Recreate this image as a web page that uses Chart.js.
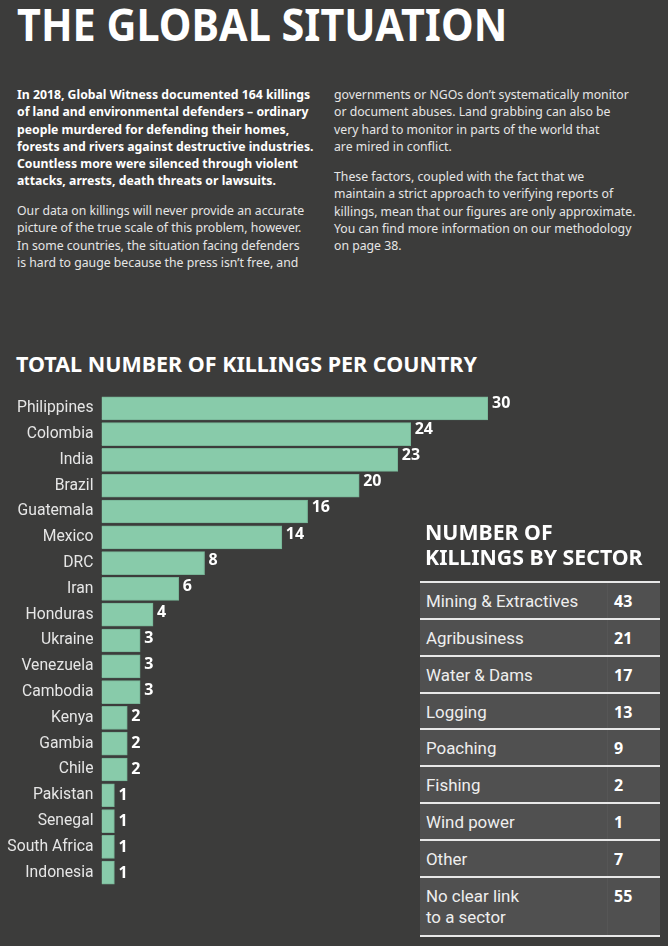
<!DOCTYPE html>
<html>
<head>
<meta charset="utf-8">
<script src="https://cdn.jsdelivr.net/npm/chart.js@4"></script>
<style>
  html, body { margin: 0; padding: 0; background: #3c3c3b; }
  #page { position: relative; width: 668px; height: 946px; overflow: hidden; background: #3c3c3b; color: #fff; }
  #page div { position: absolute; white-space: nowrap; }
  #title { left: 17px; top: -6px; font: 700 44.5px/60px "Noto Sans", sans-serif; transform: scaleX(0.93); transform-origin: left top; }
  .para { font: 12.25px/17.3px "Noto Sans", sans-serif; color: #e6e6e6; }
  .para.bold { font-weight: 700; color: #fff; }
  #chartTitle { left: 16px; top: 350px; font: 700 21.5px/28px "Noto Sans", sans-serif; }
  #sectorTitle { left: 425px; top: 519px; font: 700 21.3px/25px "Noto Sans", sans-serif; }
  #chartBox { position: absolute; left: 0; top: 386px; width: 668px; height: 509px; }
  #panel { left: 420px; top: 581px; width: 240px; height: 355px; background: #505050; }
  #page .rule { left: 420px; width: 240px; height: 2px; background: #e8e8e8; }
  #page .sep { left: 607px; width: 1px; top: 581px; height: 355px; background: #565656; }
  .sectorName { left: 426px; font: 16.9px/21px Roboto, sans-serif; color: #eee; }
  .sectorNum { left: 614px; font: 700 16px/21px "Noto Sans", sans-serif; }
</style>
</head>
<body>
<div id="page">
  <div id="title">THE GLOBAL SITUATION</div>
  <div class="para bold" style="left:17px;top:86px">In 2018, Global Witness documented 164 killings<br>of land and environmental defenders – ordinary<br>people murdered for defending their homes,<br>forests and rivers against destructive industries.<br>Countless more were silenced through violent<br>attacks, arrests, death threats or lawsuits.</div>
  <div class="para" style="left:17px;top:202px">Our data on killings will never provide an accurate<br>picture of the true scale of this problem, however.<br>In some countries, the situation facing defenders<br>is hard to gauge because the press isn’t free, and</div>
  <div class="para" style="left:334px;top:86px">governments or NGOs don’t systematically monitor<br>or document abuses. Land grabbing can also be<br>very hard to monitor in parts of the world that<br>are mired in conflict.</div>
  <div class="para" style="left:334px;top:168px">These factors, coupled with the fact that we<br>maintain a strict approach to verifying reports of<br>killings, mean that our figures are only approximate.<br>You can find more information on our methodology<br>on page 38.</div>
  <div id="chartTitle">TOTAL NUMBER OF KILLINGS PER COUNTRY</div>
  <div id="chartBox"><canvas id="killings"></canvas></div>
  <div id="sectorTitle">NUMBER OF<br>KILLINGS BY SECTOR</div>
  <div id="panel"></div>
</div>
<script>
const countries = ['Philippines', 'Colombia', 'India', 'Brazil', 'Guatemala', 'Mexico', 'DRC', 'Iran', 'Honduras', 'Ukraine', 'Venezuela', 'Cambodia', 'Kenya', 'Gambia', 'Chile', 'Pakistan', 'Senegal', 'South Africa', 'Indonesia'];
const killings = [30, 24, 23, 20, 16, 14, 8, 6, 4, 3, 3, 3, 2, 2, 2, 1, 1, 1, 1];
const sectors = ['Mining & Extractives', 'Agribusiness', 'Water & Dams', 'Logging', 'Poaching', 'Fishing', 'Wind power', 'Other', 'No clear link<br>to a sector'];
const sectorKillings = [43, 21, 17, 13, 9, 2, 1, 7, 55];

const page = document.getElementById('page');

// sector table, rows are 36.9px apart except the last two-line one
function addDiv(className, style, html) {
  const el = document.createElement('div');
  el.className = className;
  el.style.cssText = style;
  el.innerHTML = html;
  page.appendChild(el);
}
addDiv('sep', '', '');
sectors.forEach((name, i) => {
  const top = 581 + i * 36.85;
  addDiv('rule', 'top:' + top + 'px', '');
  addDiv('sectorName', 'top:' + (top + 10) + 'px', name);
  addDiv('sectorNum', 'top:' + (top + 10) + 'px', sectorKillings[i]);
});
addDiv('rule', 'top:935px', '');

// value labels at the end of each bar, they creep down a bit against the bars in the original
const valueLabels = {
  id: 'valueLabels',
  afterDatasetsDraw(chart) {
    const ctx = chart.ctx;
    ctx.save();
    ctx.fillStyle = '#fff';
    ctx.font = '700 16px "Noto Sans", sans-serif';
    ctx.textBaseline = 'middle';
    chart.getDatasetMeta(0).data.forEach((bar, i) => {
      ctx.fillText(killings[i], bar.x + 4, bar.y - 5 + i / 3);
    });
    ctx.restore();
  }
};

new Chart(document.getElementById('killings'), {
  type: 'bar',
  data: {
    labels: countries,
    datasets: [{
      data: killings,
      backgroundColor: '#88cbaa',
      borderColor: '#78b597',
      borderWidth: 1,
      barThickness: 23
    }]
  },
  options: {
    indexAxis: 'y',
    responsive: true,
    maintainAspectRatio: false,
    animation: false,
    layout: { autoPadding: false, padding: { right: 180 } },
    plugins: { legend: { display: false }, tooltip: { enabled: false } },
    scales: {
      x: { display: false, min: 0, max: 30 },
      y: {
        afterFit(scale) { scale.width = 101.5; },
        grid: { display: false },
        border: { display: false },
        ticks: { color: '#e6e6e6', padding: 0, autoSkip: false, font: { family: 'Roboto, sans-serif', size: 15.7 } }
      }
    }
  },
  plugins: [valueLabels]
});
</script>
</body>
</html>
